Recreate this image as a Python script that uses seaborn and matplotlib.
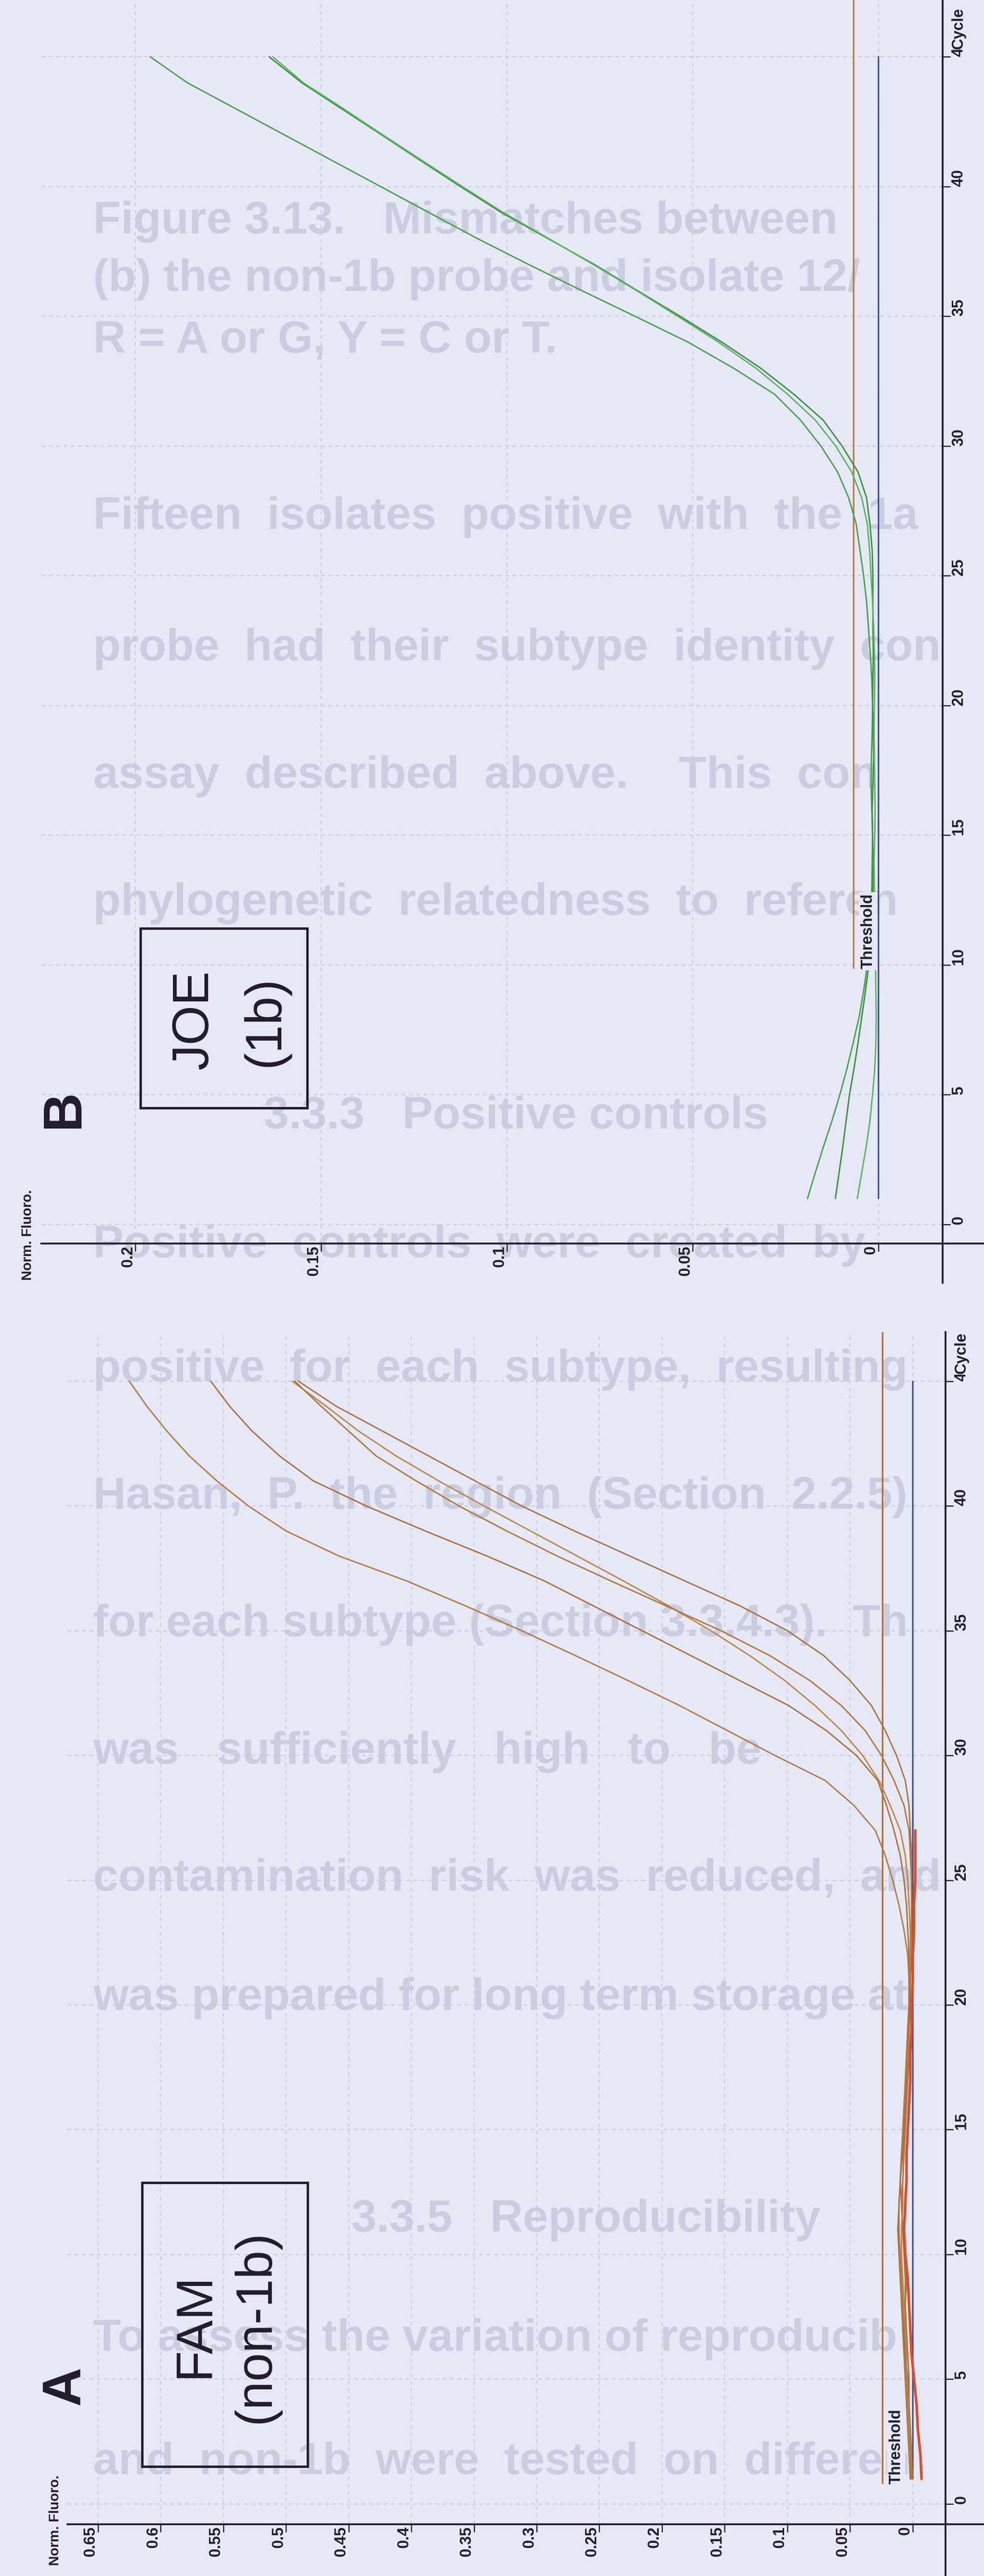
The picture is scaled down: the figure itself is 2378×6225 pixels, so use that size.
import matplotlib
matplotlib.use("Agg")
import matplotlib.pyplot as plt
from matplotlib.patches import Rectangle
import seaborn as sns
import pandas as pd

# ---- data ----
cycles = list(range(1, 46))
cycle_ticks = [0, 5, 10, 15, 20, 25, 30, 35, 40, 45]
cycle_labels = ["0", "5", "10", "15", "20", "25", "30", "35", "40", "45"]

# panel A : FAM (non-1b), five amplifying wells + one flat (red) well
fam_a = [0.001, 0.002, 0.003, 0.004, 0.005, 0.006, 0.007, 0.008, 0.009, 0.010,
         0.011, 0.011, 0.010, 0.009, 0.008, 0.007, 0.006, 0.005, 0.004, 0.003,
         0.003, 0.004, 0.007, 0.011, 0.016, 0.022, 0.030, 0.047, 0.070, 0.110,
         0.148, 0.186, 0.227, 0.269, 0.312, 0.357, 0.404, 0.458, 0.500, 0.530,
         0.555, 0.577, 0.595, 0.611, 0.625]
fam_b = [0.000, 0.001, 0.002, 0.003, 0.004, 0.006, 0.007, 0.006, 0.005, 0.006,
         0.008, 0.009, 0.010, 0.009, 0.007, 0.006, 0.005, 0.004, 0.004, 0.003,
         0.003, 0.003, 0.004, 0.005, 0.007, 0.010, 0.015, 0.021, 0.028, 0.045,
         0.069, 0.099, 0.138, 0.177, 0.216, 0.255, 0.294, 0.340, 0.389, 0.436,
         0.478, 0.505, 0.527, 0.545, 0.560]
fam_c = [0.002, 0.002, 0.003, 0.004, 0.005, 0.005, 0.006, 0.007, 0.008, 0.009,
         0.009, 0.008, 0.008, 0.007, 0.006, 0.006, 0.005, 0.004, 0.003, 0.003,
         0.002, 0.002, 0.002, 0.003, 0.004, 0.006, 0.010, 0.018, 0.027, 0.040,
         0.057, 0.078, 0.102, 0.130, 0.161, 0.195, 0.231, 0.268, 0.305, 0.342,
         0.378, 0.412, 0.442, 0.468, 0.495]
fam_d = [0.001, 0.001, 0.002, 0.003, 0.003, 0.004, 0.005, 0.006, 0.006, 0.007,
         0.008, 0.009, 0.008, 0.007, 0.006, 0.005, 0.004, 0.003, 0.003, 0.002,
         0.002, 0.001, 0.001, 0.001, 0.001, 0.002, 0.003, 0.007, 0.015, 0.025,
         0.038, 0.057, 0.082, 0.114, 0.153, 0.197, 0.241, 0.284, 0.324, 0.362,
         0.396, 0.428, 0.450, 0.472, 0.493]
fam_e = [0.002, 0.003, 0.004, 0.005, 0.006, 0.007, 0.008, 0.009, 0.010, 0.011,
         0.012, 0.011, 0.010, 0.008, 0.007, 0.006, 0.005, 0.005, 0.004, 0.003,
         0.002, 0.001, 0.001, 0.001, 0.001, 0.001, 0.002, 0.003, 0.006, 0.013,
         0.022, 0.033, 0.050, 0.071, 0.100, 0.138, 0.182, 0.226, 0.270, 0.312,
         0.349, 0.386, 0.423, 0.460, 0.490]
fam_red = [-0.007, -0.006, -0.004, -0.003, -0.001, 0.001, 0.002, 0.003, 0.004, 0.006,
           0.007, 0.006, 0.005, 0.005, 0.004, 0.003, 0.002, 0.002, 0.001, 0.001,
           0.000, 0.000, -0.001, -0.001, -0.002, -0.002, -0.002]
fam_threshold = 0.024
fam_ticks = [0, 0.05, 0.1, 0.15, 0.2, 0.25, 0.3, 0.35, 0.4, 0.45, 0.5, 0.55, 0.6, 0.65]

# panel B : JOE (1b), three amplifying wells
joe_1 = [0.0191, 0.0170, 0.0148, 0.0125, 0.0104, 0.0085, 0.0068, 0.0052, 0.0040, 0.0030,
         0.0024, 0.0020, 0.0018, 0.0017, 0.0016, 0.0018, 0.0020, 0.0019, 0.0017, 0.0016,
         0.0018, 0.0022, 0.0027, 0.0032, 0.0040, 0.0050, 0.0060, 0.0080, 0.0110, 0.0155,
         0.0210, 0.0280, 0.0390, 0.0512, 0.0655, 0.0800, 0.0942, 0.1080, 0.1210, 0.1340,
         0.1470, 0.1600, 0.1730, 0.1860, 0.1960]
joe_2 = [0.0116, 0.0106, 0.0096, 0.0087, 0.0078, 0.0066, 0.0055, 0.0045, 0.0035, 0.0026,
         0.0020, 0.0017, 0.0015, 0.0014, 0.0016, 0.0017, 0.0015, 0.0013, 0.0014, 0.0016,
         0.0015, 0.0014, 0.0015, 0.0015, 0.0015, 0.0017, 0.0023, 0.0032, 0.0055, 0.0098,
         0.0149, 0.0228, 0.0317, 0.0421, 0.0534, 0.0650, 0.0765, 0.0890, 0.1015, 0.1125,
         0.1232, 0.1338, 0.1445, 0.1552, 0.1640]
joe_3 = [0.0057, 0.0045, 0.0033, 0.0023, 0.0016, 0.0010, 0.0007, 0.0006, 0.0007, 0.0008,
         0.0009, 0.0010, 0.0011, 0.0012, 0.0010, 0.0009, 0.0010, 0.0011, 0.0012, 0.0011,
         0.0010, 0.0011, 0.0013, 0.0016, 0.0020, 0.0024, 0.0030, 0.0045, 0.0072, 0.0115,
         0.0170, 0.0245, 0.0330, 0.0430, 0.0540, 0.0652, 0.0768, 0.0888, 0.1010, 0.1120,
         0.1228, 0.1335, 0.1440, 0.1548, 0.1630]
joe_threshold = 0.0067
joe_ticks = [0, 0.05, 0.1, 0.15, 0.2]

# flat no-template (blue) line in both runs
ntc_cycles = [1, 45]
ntc_values = [0.0, 0.0]

# faint text showing through from the other side of the page
bleed_text = ["Figure 3.13.   Mismatches between",
              "(b) the non-1b probe and isolate 12/",
              "R = A or G, Y = C or T.",
              "Fifteen  isolates  positive  with  the  1a",
              "probe  had  their  subtype  identity  con",
              "assay  described  above.    This  con",
              "phylogenetic  relatedness  to  referen",
              "3.3.3   Positive controls",
              "Positive  controls  were  created  by",
              "positive  for  each  subtype,  resulting",
              "Hasan,  P.  the  region  (Section  2.2.5)",
              "for each subtype (Section 3.3.4.3).  Th",
              "was   sufficiently   high   to   be",
              "contamination  risk  was  reduced,  and",
              "was prepared for long term storage at",
              "3.3.5   Reproducibility",
              "To assess the variation of reproducib",
              "and  non-1b  were  tested  on  differen"]
bleed_y = [536, 675, 824, 1250, 1568, 1876, 2183, 2699, 3010, 3310,
           3618, 3926, 4234, 4541, 4829, 5365, 5653, 5951]
bleed_x = [225, 225, 225, 225, 225, 225, 225, 637, 225, 225,
           225, 225, 225, 225, 225, 849, 225, 225]

BG = "#e6e8f6"
INK = "#221c2c"
GRID = "#c6cadc"
W, H = 2378, 6225

sns.set_theme(style="white")
plt.rcParams["font.family"] = ["Liberation Sans", "DejaVu Sans"]
small = dict(family=["Liberation Sans", "DejaVu Sans"], fontweight="bold",
             fontsize=27, color=INK)

fig = plt.figure(figsize=(W / 100, H / 100), dpi=100, facecolor=BG)


def fx(px):
    return px / W


def fy(py):
    return 1 - py / H


for txt, x, y in zip(bleed_text, bleed_x, bleed_y):
    fig.text(fx(x), fy(y), txt, fontsize=79, fontweight="bold", color="#cacde0",
             va="center", ha="left", zorder=-5)


def panel(rect, xlim, ylim, spine_f, spine_c, fticks):
    ax = fig.add_axes(rect)
    ax.patch.set_alpha(0)
    ax.set_xlim(*xlim)
    ax.set_ylim(*ylim)
    for s in ["left", "top"]:
        ax.spines[s].set_visible(False)
    ax.spines["right"].set_position(("data", spine_f))
    ax.spines["bottom"].set_position(("data", spine_c))
    for s in ["right", "bottom"]:
        ax.spines[s].set_linewidth(3.2)
        ax.spines[s].set_color(INK)
    ax.yaxis.tick_right()
    ax.set_xticks(fticks, labels=[f"{v:g}" for v in fticks], rotation=90,
                  ha="right", va="top", **small)
    ax.set_yticks(cycle_ticks, labels=cycle_labels, rotation=90,
                  ha="left", va="bottom", **small)
    ax.tick_params(axis="x", direction="out", length=14, width=2, pad=-10,
                   color=INK, bottom=True)
    ax.tick_params(axis="y", direction="out", length=14, width=2, pad=1,
                   color=INK, right=True, left=False, labelright=True, labelleft=False)
    # dashed grid, inside the plotting area only
    ax.vlines(fticks, spine_c, ylim[1], colors=GRID, lw=1.6,
              linestyles=(0, (4, 4)), zorder=1)
    ax.hlines(cycle_ticks, xlim[0], spine_f, colors=GRID, lw=1.6,
              linestyles=(0, (4, 4)), zorder=1)
    # "Cycle" written over the 45 label
    ax.annotate("Cycle", xy=(spine_f, 45.3), xytext=(15, 0), textcoords="offset points",
                rotation=90, ha="left", va="bottom", zorder=6,
                bbox=dict(boxstyle="square,pad=0.05", fc=BG, ec="none"), **small)
    return ax


# ---------------- panel B (top) ----------------
axB = panel([fx(100), fy(3100), 1 - fx(100), 3100 / H],
            (0.2253, -0.0284), (-2.25, 47.19), -0.01726, -0.73, joe_ticks)
joe = pd.DataFrame({"cycle": cycles * 3,
                    "fluoro": joe_1 + joe_2 + joe_3,
                    "well": [w for w in ["w1", "w2", "w3"] for _ in cycles]})
sns.lineplot(data=joe, x="fluoro", y="cycle", hue="well", orient="y", estimator=None,
             palette={"w1": "#47a04e", "w2": "#3a8f44", "w3": "#5cb25e"},
             legend=False, lw=2.4, ax=axB, zorder=3)
sns.lineplot(x=ntc_values, y=ntc_cycles, orient="y", color="#3d4a8e", lw=2.6,
             ax=axB, zorder=2)
axB.vlines(joe_threshold, 9.85, 47.19, color="#b5773f", lw=2.6, zorder=2)
axB.text(0.0048, 9.85, "Threshold", rotation=90, ha="left", va="bottom", zorder=5,
         bbox=dict(boxstyle="square,pad=0.1", fc=BG, ec="none"), **small)

# ---------------- panel A (bottom) ----------------
axA = panel([fx(163), 0, 1 - fx(163), 1 - 3219 / H],
            (0.6743, -0.0568), (-2.89, 46.97), -0.0261, -0.81, fam_ticks)
fam = pd.DataFrame({"cycle": cycles * 5,
                    "fluoro": fam_a + fam_b + fam_c + fam_d + fam_e,
                    "well": [w for w in ["a", "b", "c", "d", "e"] for _ in cycles]})
sns.lineplot(data=fam, x="fluoro", y="cycle", hue="well", orient="y", estimator=None,
             palette={"a": "#b27a45", "b": "#a9703d", "c": "#bd844c", "d": "#b0763f",
                      "e": "#a87444"},
             legend=False, lw=2.4, ax=axA, zorder=3)
sns.lineplot(x=fam_red, y=cycles[:len(fam_red)], orient="y", color="#de4b2a", lw=4.5,
             ax=axA, zorder=3)
sns.lineplot(x=ntc_values, y=ntc_cycles, orient="y", color="#3d4a8e", lw=2.6,
             ax=axA, zorder=2)
axA.vlines(fam_threshold, 0.8, 46.97, color="#a8703a", lw=2.8, zorder=2)
axA.text(0.0191, 0.8, "Threshold", rotation=90, ha="left", va="bottom", zorder=5,
         bbox=dict(boxstyle="square,pad=0.1", fc=BG, ec="none"), **small)

for ax in (axA, axB):
    ax.set_xlabel("")
    ax.set_ylabel("")

# ---------------- labels and boxes ----------------
for x, y in [(68, 2985), (133, 6090)]:
    fig.text(fx(x), fy(y), "Norm. Fluoro.", rotation=90, ha="center", va="center",
             **{**small, "fontsize": 24})

fig.text(fx(155), fy(2680), "B", rotation=90, ha="center", va="center",
         fontsize=94, fontweight="bold", color=INK)
fig.text(fx(157), fy(5765), "A", rotation=90, ha="center", va="center",
         fontsize=94, fontweight="bold", color=INK)

for (x0, y0, x1, y1) in [(340, 2244, 743, 2678), (344, 5275, 744, 5961)]:
    fig.add_artist(Rectangle((fx(x0), fy(y1)), fx(x1 - x0), (y1 - y0) / H,
                             transform=fig.transFigure, fill=False, ec=INK, lw=4.2))

big = dict(rotation=90, ha="center", va="center", fontsize=89, color=INK)
fig.text(fx(470), fy(2465), "JOE", **big)
fig.text(fx(641), fy(2468), "(1b)", **big)
fig.text(fx(472), fy(5619), "FAM", **big)
fig.text(fx(618), fy(5622), "(non-1b)", **big)

fig.savefig("out.png", dpi=100, facecolor=BG)
